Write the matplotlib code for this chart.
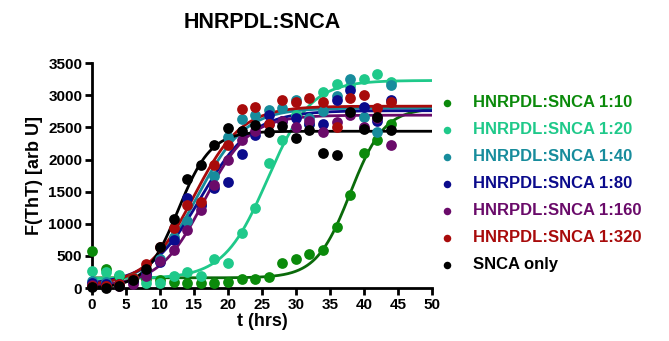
import numpy as np
import matplotlib
matplotlib.use("Agg")
import matplotlib.pyplot as plt

plt.rcParams['font.family'] = ['Liberation Sans', 'DejaVu Sans']
plt.rcParams['font.weight'] = 'bold'

# sampling times (hrs)
t = np.arange(0, 46, 2)

labels = ['HNRPDL:SNCA 1:10', 'HNRPDL:SNCA 1:20', 'HNRPDL:SNCA 1:40',
          'HNRPDL:SNCA 1:80', 'HNRPDL:SNCA 1:160', 'HNRPDL:SNCA 1:320',
          'SNCA only']
colors = ['#0b8a0b', '#1fc98a', '#178c9c', '#0b0b8c', '#6a0b6a', '#a80b0b', '#000000']
line_colors = ['#0a6a0a', '#1fc98a', '#178c9c', '#0b0b8c', '#6a0b6a', '#a80b0b', '#000000']

# measured ThT fluorescence
y_1_10 = [570, 300, 195, 150, 140, 120, 100, 75, 85, 85, 100, 135, 140, 175,
          385, 450, 530, 600, 950, 1450, 2100, 2300, 2560]
y_1_20 = [265, 250, 200, 150, 85, 85, 185, 250, 190, 450, 385, 850, 1250, 1940,
          2300, 2700, 2560, 3050, 3180, 3150, 3250, 3330, 3200]
y_1_40 = [110, 90, 70, 110, 220, 450, 800, 1050, 1300, 1750, 2350, 2630, 2690, 2770,
          2800, 2920, 2650, 2750, 2990, 3260, 2660, 2430, 3160]
y_1_80 = [80, 60, 70, 100, 220, 400, 750, 1400, 1300, 1550, 1650, 2090, 2380, 2690,
          2600, 2650, 2560, 2560, 2920, 3080, 2820, 2600, 2920]
y_1_160 = [50, 30, 30, 60, 187, 425, 600, 910, 1210, 1600, 2000, 2300, 2450, 2550,
           2600, 2500, 2600, 2430, 2590, 2700, 2500, 2650, 2220]
y_1_320 = [30, 40, 60, 150, 380, 640, 930, 1290, 1340, 1910, 2220, 2780, 2815, 2560,
           2930, 2900, 2950, 2900, 2510, 2950, 3000, 2800, 2900]
y_snca = [20, 10, 40, 125, 300, 640, 1080, 1700, 1910, 2220, 2490, 2450, 2530, 2430,
          2520, 2340, 2460, 2100, 2070, 2740, 2480, 2660, 2460]
series = [y_1_10, y_1_20, y_1_40, y_1_80, y_1_160, y_1_320, y_snca]

# Boltzmann sigmoid fit parameters: bottom, top, t50, slope
bottom = [160, 150, 50, 50, 30, 30, 0]
top = [2800, 3230, 2800, 2760, 2690, 2830, 2440]
t50 = [38.0, 25.8, 15.5, 16.0, 16.5, 15.0, 12.7]
slope = [2.5, 3.2, 3.5, 3.8, 3.3, 3.5, 2.4]

fig = plt.figure(figsize=(6.69, 3.41), dpi=100)
ax = fig.add_axes([0.1375, 0.155, 0.508, 0.66])

tt = np.linspace(0, 50, 400)
handles = []
for i in range(len(series)):
    fit = bottom[i] + (top[i] - bottom[i]) / (1 + np.exp((t50[i] - tt) / slope[i]))
    ax.plot(tt, fit, color=line_colors[i], lw=2, zorder=2 + i * 0.1)
    h = ax.scatter(t, series[i], s=60, color=colors[i], zorder=3 + i * 0.1,
                   clip_on=False, label=labels[i], linewidths=0)
    handles.append(h)

ax.set_xlim(0, 50)
ax.set_ylim(0, 3500)
ax.set_xticks(np.arange(0, 55, 5))
ax.set_yticks(np.arange(0, 4000, 500))
for s in ['top', 'right']:
    ax.spines[s].set_visible(False)
for s in ['left', 'bottom']:
    ax.spines[s].set_linewidth(2)
ax.tick_params(width=2, length=5, labelsize=11, pad=2)
ax.set_xlabel('t (hrs)', fontsize=13, fontweight='bold', labelpad=1)
ax.set_ylabel('F(ThT) [arb U]', fontsize=13, fontweight='bold', labelpad=4)
ax.set_title('HNRPDL:SNCA', fontsize=15.5, fontweight='bold', pad=25)

leg = ax.legend(handles=handles, loc='upper left', bbox_to_anchor=(0.972, 0.925),
                frameon=False, fontsize=12, handletextpad=0.92, labelspacing=0.72,
                markerscale=0.7, handlelength=1.2)
for txt, c in zip(leg.get_texts(), colors):
    txt.set_color(c)
    txt.set_fontweight('bold')

fig.savefig('out.png', dpi=100)
